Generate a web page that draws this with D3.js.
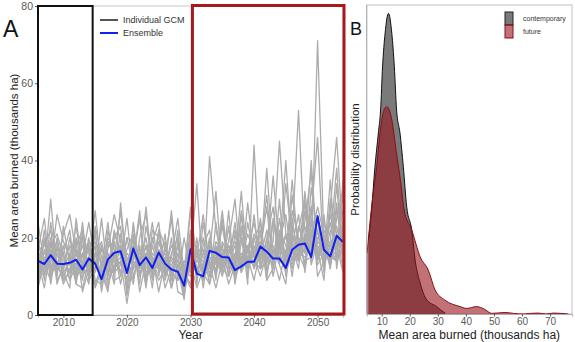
<!DOCTYPE html>
<html><head><meta charset="utf-8">
<script src="https://cdn.jsdelivr.net/npm/d3@7"></script>
<style>
html,body{margin:0;padding:0;background:#fff;}
svg{display:block;font-family:"Liberation Sans",Arial,sans-serif;}
</style></head>
<body><svg id="chart" width="575" height="342"></svg>
<script>
// ---------- Panel A data ----------
const yearStart = 2006, yearEnd = 2054;
const years = d3.range(yearStart, yearEnd + 1);
const gcm01 = [12,22,8,18,11, 7,25,12,20,9, 8,17,26,19,6, 24,10,16,7,22, 11,20,6,5,19, 12,9,41,22,15, 8,13,27,14,19, 24,9,12,30,10, 18,26,11,24,17, 9,28,46,20];
const gcm02 = [20,9,24,13,16, 22,8,7,14,27, 11,6,20,23,5, 15,25,9,18,12, 21,7,13,9,14, 7,12,20,9,25, 14,10,22,8,44, 12,20,28,13,8, 25,14,32,17,25, 11,30,21,12];
const gcm03 = [7,14,19,10,23, 13,19,6,12,21, 12,7,15,27,11, 18,8,23,15,6, 14,25,9,11,28, 8,24,12,18,11, 27,9,15,13,26, 12,14,19,45,21, 10,22,30,13,19, 26,12,34,14];
const gcm04 = [24,13,9,20,12, 16,10,24,10,22, 6,16,11,13,25, 10,15,8,22,20, 13,7,19,8,12, 15,26,13,7,14, 19,30,11,15,9, 17,28,12,25,14, 20,53,17,28,10, 14,35,12,23];
const gcm05 = [9,17,13,26,19, 15,8,20,9,12, 18,11,22,15,9, 23,13,28,11,16, 7,12,11,10,22, 16,11,8,24,12, 10,14,32,12,16, 21,9,25,18,12, 31,18,23,14,71, 19,12,25,30];
const gcm06 = [14,7,17,12,21, 26,16,11,15,8, 13,24,9,10,20, 19,6,14,24,11, 15,10,22,7,13, 11,20,10,14,23, 13,24,12,29,15, 10,16,36,17,20, 24,15,19,26,46, 14,28,18,11];
const gcm07 = [17,25,10,14,8, 12,18,22,11,15, 19,9,12,21,13, 8,20,26,13,9, 12,18,14,5,15, 34,9,16,32,11, 23,8,19,14,13, 17,31,13,22,18, 12,17,24,37,15, 20,13,27,19];
const gcm08 = [10,12,30,11,18, 9,13,21,16,7, 12,20,17,8,16, 14,27,10,12,22, 18,11,9,20,11, 14,17,8,15,10, 16,22,14,18,12, 25,11,17,13,34, 19,14,29,22,13, 16,24,15,33];
const gcm09 = [15,18,22,9,12, 20,11,15,24,14, 10,14,8,29,12, 16,11,13,19,24, 10,15,25,11,7, 17,10,14,11,25, 12,15,23,16,20, 14,38,15,9,17, 13,20,16,40,15, 24,17,14,22];
const gcm10 = [11,20,11,16,10, 14,23,12,18,11, 25,10,16,11,20, 12,14,20,10,19, 13,27,10,14,12, 16,12,19,14,27, 13,18,11,24,15, 19,12,16,20,14, 35,16,12,25,18, 15,19,38,16];
const gcm11 = [12,10,18,21,15, 11,16,10,13,18, 7,19,15,13,14, 18,10,15,13,12, 17,14,12,9,27, 15,14,11,16,13, 17,14,20,12,18, 13,16,14,17,40, 16,14,19,16,20, 22,18,15,35];
const gcm12 = [18,16,13,11,18, 17,9,14,17,13, 12,13,11,18,15, 9,17,12,16,14, 11,13,16,12,10, 18,15,13,12,16, 14,11,15,17,12, 16,15,13,21,15, 18,12,27,20,17, 14,22,19,27];
const gcm13 = [13,12,19,14,9, 15,13,18,11,16, 14,8,13,15,12, 20,13,16,11,17, 14,10,18,10,15, 11,16,14,17,12, 16,19,13,15,14, 12,17,18,14,16, 21,17,14,15,19, 17,13,20,17];
const gcm14 = [11,19,12,17,14, 13,11,16,14,12, 17,14,19,10,13, 15,16,9,14,10, 18,12,13,11,18, 12,13,18,11,15, 18,13,16,12,17, 22,14,17,16,21, 14,18,16,28,14, 19,16,14,21];
const gcm15 = [14,11,15,12,16, 9,17,13,15,19, 13,16,12,14,3, 14,12,18,15,13, 16,11,14,13,14, 14,12,10,19,17, 11,16,15,13,14, 15,18,14,19,13, 17,15,21,16,22, 13,18,23,15];
const gcm16 = [8,15,14,16,11, 14,12,16,10,14, 11,13,18,16,11, 13,15,11,14,16, 10,15,12,4,21, 10,13,15,14,12, 18,15,14,21,16, 14,19,17,15,13, 20,16,15,18,16, 17,15,14,18];
const gcm17 = [16,10,20,8,13, 18,14,9,19,17, 8,22,14,11,17, 21,12,18,9,15, 19,9,16,6,20, 9,18,22,10,19, 15,12,26,10,21, 18,13,24,16,11, 27,20,13,33,21, 16,26,17,24];
const gcm18 = [10,14,16,19,9, 11,20,13,8,23, 15,10,21,17,8, 12,18,7,20,13, 9,16,20,11,8, 20,7,17,13,18, 10,21,12,17,24, 15,22,10,19,26, 14,23,18,20,28, 21,14,29,13];
const gcmSeries = [gcm01,gcm02,gcm03,gcm04,gcm05,gcm06,gcm07,gcm08,gcm09,gcm10,gcm11,gcm12,gcm13,gcm14,gcm15,gcm16,gcm17,gcm18];
const ensemble = [14.0,13.2,15.5,13.3,13.2, 13.5,14.3,11.8,14.6,13.3, 9.3,14.4,16.1,16.5,10.9, 17.2,12.9,14.9,12.2,16.2, 13.3,11.8,11.2,7.6,17.0, 10.7,10.0,16.6,16.1,15.0, 14.9,11.6,12.6,13.8,13.8, 17.7,16.4,14.6,14.6,12.2, 16.9,18.2,18.5,15.0,25.6, 16.9,15.2,20.5,18.9];
const yTicksA = [0,20,40,60,80];
const xTicksA = [2010,2020,2030,2040,2050];
const contemporaryWindow = [2006, 2014.6];
const futureWindow = [2030.3, 2054];
const legendA = ["Individual GCM", "Ensemble"];

// ---------- Panel B data (density curves) ----------
const contX = [5.3,6.4,7.6,8.8,9.6,10.3,11.2,12.4,13.6,14.5,15.3,16.5,17.7,18.9,20.7,21.9,23.7,26.1,29.6,31.0,32.6];
const contD = [0.024,0.0337,0.0477,0.0586,0.066,0.080,0.0908,0.0973,0.0908,0.080,0.066,0.0586,0.0477,0.0347,0.0272,0.0175,0.010,0.0045,0.0024,0.0013,0.0003];
const futX = [4.8,6.4,8.2,9.4,10.8,11.8,13.6,15.1,16.8,18.0,20.7,23.7,26.6,29.0,32.5,37.9,40.3,43.8,46.5,49.2,54.0,57.0,60.5,63.0,65.8,68.5,71.2,76.5];
const futD = [0.0197,0.0347,0.0477,0.0586,0.066,0.0671,0.0628,0.0531,0.0424,0.0337,0.0272,0.0185,0.0142,0.0078,0.0045,0.0024,0.0018,0.0024,0.0016,0.0002,0.0005,0.0002,0.0,0.0002,0.0003,0.0,0.0003,0.0];
const xTicksB = [10,20,30,40,50,60,70];
const legendB = ["contemporary", "future"];

// ---------- Drawing ----------
const svg = d3.select("#chart");
const axisGray = "#5a5a5a";

// Panel A
const A = {l:38, r:343, t:6, b:315};
const xA = d3.scaleLinear().domain([yearStart, yearEnd]).range([A.l, A.r]);
const yA = d3.scaleLinear().domain([0, 80]).range([A.b, A.t]);

svg.append("rect").attr("x",A.l).attr("y",A.t).attr("width",A.r-A.l).attr("height",A.b-A.t)
  .attr("fill","none").attr("stroke","#c8c8c8").attr("stroke-width",1);

const line = d3.line().x((d,i)=>xA(years[i])).y(d=>yA(d));
svg.append("g").selectAll("path").data(gcmSeries).join("path")
  .attr("d", line).attr("fill","none").attr("stroke","#acacac").attr("stroke-width",1.3)
  .attr("stroke-linejoin","round");
svg.append("path").datum(ensemble).attr("d", line).attr("fill","none")
  .attr("stroke","#1020ee").attr("stroke-width",2).attr("stroke-linejoin","round");

// axes A
const gyA = svg.append("g").attr("transform",`translate(${A.l},0)`)
  .call(d3.axisLeft(yA).tickValues(yTicksA).tickSize(3).tickPadding(2));
gyA.select(".domain").attr("stroke","#444");
gyA.selectAll("line").attr("stroke",axisGray);
gyA.selectAll("text").attr("fill",axisGray).attr("font-size",10.5);
const gxA = svg.append("g").attr("transform",`translate(0,${A.b})`)
  .call(d3.axisBottom(xA).tickValues(xTicksA).tickFormat(d3.format("d")).tickSize(2.5).tickPadding(1));
gxA.select(".domain").attr("stroke","#aaa");
gxA.selectAll("line").attr("stroke",axisGray);
gxA.selectAll("text").attr("fill",axisGray).attr("font-size",10);

// windows
svg.append("rect").attr("x",xA(contemporaryWindow[0])).attr("y",yA(80))
  .attr("width",xA(contemporaryWindow[1])-xA(contemporaryWindow[0])).attr("height",yA(0)-yA(80))
  .attr("fill","none").attr("stroke","#111").attr("stroke-width",2);
svg.append("rect").attr("x",xA(futureWindow[0])).attr("y",yA(80)-0.5)
  .attr("width",xA(futureWindow[1])-xA(futureWindow[0])+1).attr("height",yA(0)-yA(80)-0.5)
  .attr("fill","none").attr("stroke","#a8181c").attr("stroke-width",3);

// legend A
const legColA = ["#555555","#1020ee"];
legendA.forEach((t,i)=>{
  const y = 20 + i*13;
  svg.append("line").attr("x1",100).attr("x2",118).attr("y1",y).attr("y2",y)
    .attr("stroke",legColA[i]).attr("stroke-width",2);
  svg.append("text").attr("x",123).attr("y",y).attr("dy","0.35em")
    .attr("font-size",9).attr("fill","#333").text(t);
});

// titles A
svg.append("text").attr("x",3).attr("y",37).attr("font-size",23).attr("fill","#111").text("A");
svg.append("text").attr("transform",`translate(18,${(A.t+A.b)/2}) rotate(-90)`)
  .attr("text-anchor","middle").attr("font-size",11.5).attr("fill","#222")
  .text("Mean area burned (thousands ha)");
svg.append("text").attr("x",(A.l+A.r)/2).attr("y",339).attr("text-anchor","middle")
  .attr("font-size",12).attr("fill","#222").text("Year");

// Panel B
const B = {l:366.7, r:572, t:5, b:314};
const xB = d3.scaleLinear().domain([4.65, 77.8]).range([B.l, B.r]);
const yB = d3.scaleLinear().domain([0, 0.1]).range([B.b, B.t]);
svg.append("rect").attr("x",B.l).attr("y",B.t).attr("width",B.r-B.l).attr("height",B.b-B.t)
  .attr("fill","none").attr("stroke","#c0c0c0").attr("stroke-width",1);

const area = d3.area().curve(d3.curveMonotoneX).x(d=>xB(d[0])).y0(yB(0)).y1(d=>yB(d[1]));
const lineB = d3.line().curve(d3.curveMonotoneX).x(d=>xB(d[0])).y(d=>yB(d[1]));
const contPts = contX.map((x,i)=>[x,contD[i]]);
const futPts = futX.map((x,i)=>[x,futD[i]]);
svg.append("path").datum(contPts).attr("d",area).attr("fill","#7a7a7a");
svg.append("path").datum(contPts).attr("d",lineB).attr("fill","none").attr("stroke","#111").attr("stroke-width",1);
svg.append("path").datum(futPts).attr("d",area).attr("fill","#96141c").attr("fill-opacity",0.6);
svg.append("path").datum(futPts).attr("d",lineB).attr("fill","none").attr("stroke","#8a0f14").attr("stroke-width",1);

const gxB = svg.append("g").attr("transform",`translate(0,${B.b})`)
  .call(d3.axisBottom(xB).tickValues(xTicksB).tickSize(2.5).tickPadding(1.5));
gxB.select(".domain").attr("stroke","#aaa");
gxB.selectAll("line").attr("stroke",axisGray);
gxB.selectAll("text").attr("fill",axisGray).attr("font-size",10);
svg.append("line").attr("x1",B.l).attr("x2",B.l).attr("y1",B.t).attr("y2",B.b).attr("stroke","#aaa");

// legend B
const legFill = [{f:"#7a7a7a",o:1,s:"#222"},{f:"#96141c",o:0.6,s:"#8a0f14"}];
legendB.forEach((t,i)=>{
  const y = 12 + i*13;
  svg.append("rect").attr("x",505).attr("y",y).attr("width",8).attr("height",13)
    .attr("fill",legFill[i].f).attr("fill-opacity",legFill[i].o).attr("stroke",legFill[i].s).attr("stroke-width",1);
  svg.append("text").attr("x",523).attr("y",y+7).attr("dy","0.35em").attr("font-size",7)
    .attr("fill","#333").text(t);
});

svg.append("text").attr("x",350).attr("y",35).attr("font-size",18).attr("fill","#111").text("B");
svg.append("text").attr("transform",`translate(359,${(B.t+B.b)/2}) rotate(-90)`)
  .attr("text-anchor","middle").attr("font-size",11.5).attr("fill","#222")
  .text("Probability distribution");
svg.append("text").attr("x",(B.l+B.r)/2).attr("y",339).attr("text-anchor","middle")
  .attr("font-size",12).attr("fill","#222").text("Mean area burned (thousands ha)");
</script></body></html>
